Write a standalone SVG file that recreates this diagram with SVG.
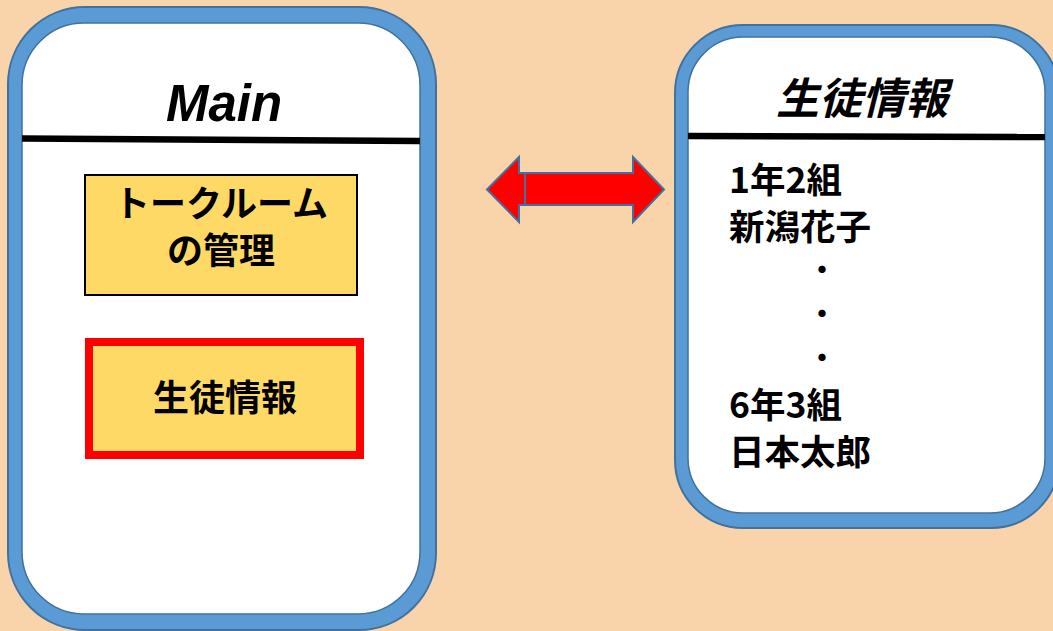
<svg xmlns="http://www.w3.org/2000/svg" width="1053" height="631" viewBox="0 0 1053 631">
<style>
.outer{fill:#5B9BD5;stroke:#41719C;stroke-width:2}
.inner{fill:#FFFFFF;stroke:#41719C;stroke-width:1.5}
.sep{stroke:#000;stroke-width:6.5}
.jp{font-family:"Noto Sans CJK JP","Noto Sans",sans-serif;font-weight:bold;font-size:36px;fill:#000}
.list{font-size:35.5px}
.title{font-size:43px;font-style:italic}
.dot{font-size:26px;font-weight:900}
.main{font-family:"Liberation Sans",Arial,sans-serif;font-weight:bold;font-style:italic;font-size:51px;fill:#000}
.box{fill:#FFD966}
.arrow{fill:#FF0000;stroke:#41719C;stroke-width:2;stroke-linejoin:miter}
</style>
<rect width="1053" height="631" fill="#F9D4AB"/>
<g id="main-panel">
<rect class="outer" x="8" y="7" width="428" height="623" rx="77" ry="77"/>
<rect class="inner" x="22" y="23" width="398" height="591" rx="62" ry="62"/>
<line class="sep" x1="22" y1="138.5" x2="420" y2="141"/>
<text class="main" x="224" y="121" text-anchor="middle">Main</text>
</g>
<g id="talkroom-node">
<rect class="box" x="85" y="175" width="272" height="120" stroke="#000" stroke-width="2"/>
<text class="jp" text-anchor="middle"><tspan x="221" y="217">トークルーム</tspan><tspan x="221" y="264">の管理</tspan></text>
</g>
<g id="student-node">
<rect class="box" x="89" y="342" width="271" height="113" stroke="#FF0000" stroke-width="8"/>
<text class="jp" x="225" y="411" text-anchor="middle">生徒情報</text>
</g>
<g id="connectors">
<polygon class="arrow" points="525,173 633,173 633,157 664,189.5 633,222 633,205 525,205"/>
<polygon class="arrow" points="487,189.5 519,157 519,173 525,173 525,205 519,205 519,222"/>
</g>
<g id="student-panel">
<rect class="outer" x="675" y="25" width="384" height="503" rx="68" ry="68"/>
<rect class="inner" x="688" y="37" width="357" height="476" rx="55" ry="55"/>
<line class="sep" x1="688" y1="136" x2="1045" y2="137"/>
<text class="jp title" x="862" y="114" text-anchor="middle">生徒情報</text>
<text class="jp list"><tspan x="729" y="193">1年2組</tspan><tspan x="729" y="240">新潟花子</tspan></text>
<text class="jp dot" x="822" y="279" text-anchor="middle">・</text>
<text class="jp dot" x="822" y="323" text-anchor="middle">・</text>
<text class="jp dot" x="822" y="367" text-anchor="middle">・</text>
<text class="jp list"><tspan x="729" y="418">6年3組</tspan><tspan x="729" y="465">日本太郎</tspan></text>
</g>
</svg>
